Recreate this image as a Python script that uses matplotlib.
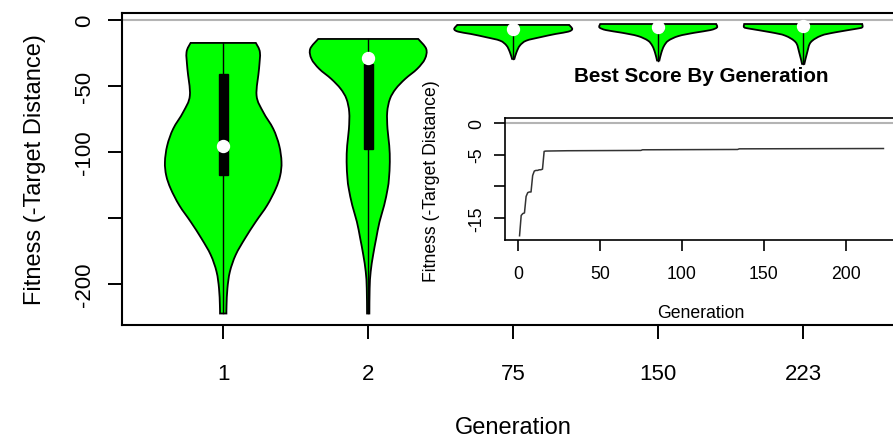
import numpy as np
import matplotlib.pyplot as plt
from matplotlib.path import Path
from matplotlib.patches import PathPatch

plt.rcParams['font.family'] = ['Liberation Sans', 'DejaVu Sans']

# generations shown in the violin plot
gen_labels = ['1', '2', '75', '150', '223']

# violin outlines: fitness value and half width (x units)
v1_y = [-17.7, -24.7, -37.3, -57.5, -70, -82.6, -95.2, -107.7, -118, -128,
        -140.5, -153, -165.6, -178, -190.7, -203.3, -215.8, -222.3]
v1_w = [0.225, 0.253, 0.247, 0.230, 0.276, 0.345, 0.386, 0.402, 0.393, 0.362,
        0.303, 0.224, 0.150, 0.086, 0.046, 0.029, 0.023, 0.022]
v2_y = [-14.7, -22.2, -29.8, -37.3, -44.9, -52.4, -60, -70, -82.6, -95.2,
        -107.7, -120.3, -128, -140.5, -153, -165.6, -178, -190.7, -203.3, -222.3]
v2_w = [0.345, 0.400, 0.391, 0.338, 0.255, 0.190, 0.150, 0.131, 0.133, 0.145,
        0.149, 0.143, 0.134, 0.110, 0.078, 0.055, 0.034, 0.017, 0.010, 0.008]
v3_y = [-4.1, -7.2, -9.2, -10.9, -13.4, -16, -19.7, -24.7, -29.8]
v3_w = [0.386, 0.407, 0.379, 0.293, 0.186, 0.090, 0.046, 0.023, 0.008]
v4_y = [-3.4, -6.0, -8.0, -10.0, -12.5, -16.0, -20.0, -25.0, -31.0]
v4_w = [0.400, 0.405, 0.360, 0.250, 0.140, 0.070, 0.040, 0.022, 0.008]
v5_y = [-3.4, -5.9, -7.0, -9.7, -12.2, -17.2, -24.7, -33.6]
v5_w = [0.407, 0.407, 0.366, 0.221, 0.124, 0.052, 0.028, 0.008]

medians = [-95.9, -29.3, -7.2, -5.9, -4.7]
q1 = [-117.5, -97.7, -9.5, -8.4, -7.0]
q3 = [-41.1, -33.6, -5.0, -4.0, -3.6]

# best score per generation (inset)
best_gen = [1, 2, 3, 4, 5, 6, 7, 8, 9, 10, 11, 12, 13, 14, 15, 16, 17,
            30, 75, 76, 134, 135, 223]
best_val = [-17.8, -14.6, -14.3, -14.2, -11.6, -11.0, -10.9, -10.9, -8.3, -7.6,
            -7.5, -7.5, -7.4, -7.4, -7.3, -4.5, -4.45, -4.4, -4.35, -4.25,
            -4.2, -4.1, -4.05]

violins = [(v1_y, v1_w), (v2_y, v2_w), (v3_y, v3_w), (v4_y, v4_w), (v5_y, v5_w)]


def smooth_side(pts):
    # catmull-rom through the outline points, as bezier segments
    verts, codes = [], []
    n = len(pts)
    for i in range(n - 1):
        p0 = pts[max(i - 1, 0)]
        p1 = pts[i]
        p2 = pts[i + 1]
        p3 = pts[min(i + 2, n - 1)]
        c1 = p1 + (p2 - p0) / 6
        c2 = p2 - (p3 - p1) / 6
        verts += [c1, c2, p2]
        codes += [Path.CURVE4] * 3
    return verts, codes


fig = plt.figure(figsize=(8.93, 4.39), dpi=100)
ax = fig.add_axes([0.1363, 0.2574, 0.8768, 0.7100])

for i, (vy, vw) in enumerate(violins):
    pos = i + 1
    vy = np.array(vy)
    vw = np.array(vw)
    left = np.column_stack([pos - vw, vy])
    right = np.column_stack([pos + vw, vy])[::-1]
    lv, lc = smooth_side(left)
    rv, rc = smooth_side(right)
    verts = [left[0]] + lv + [right[0]] + rv + [left[0]]
    codes = [Path.MOVETO] + lc + [Path.LINETO] + rc + [Path.CLOSEPOLY]
    ax.add_patch(PathPatch(Path(verts, codes), facecolor='#00ff00',
                           edgecolor='black', lw=1.3, zorder=2))
    ax.plot([pos, pos], [vy.min(), vy.max()], color='black', lw=1.0, zorder=3)
    ax.fill([pos - 0.031, pos + 0.031, pos + 0.031, pos - 0.031],
            [q1[i], q1[i], q3[i], q3[i]], color='black', zorder=4)
    ax.plot(pos, medians[i], 'o', color='white', ms=8.6, mec='white', zorder=5)

ax.axhline(0, color='#b4b4b4', lw=1.5, zorder=1)
ax.set_xlim(0.3, 5.7)
ax.set_ylim(-231.0, 4.69)
ax.set_xticks(range(1, 6))
ax.set_xticklabels(gen_labels)
ax.set_yticks([0, -50, -100, -150, -200])
ax.set_yticklabels(['0', '-50', '-100', '', '-200'], rotation=90, va='center')
ax.tick_params(axis='both', direction='out', length=10, width=1.4, labelsize=16)
ax.tick_params(axis='x', pad=17)
ax.tick_params(axis='y', pad=9)
for s in ax.spines.values():
    s.set_linewidth(1.5)

fig.text(35 / 893, 1 - 170 / 439, 'Fitness (-Target Distance)', rotation=90,
         ha='center', va='center', fontsize=17)
fig.text(513 / 893, 1 - 428 / 439, 'Generation', ha='center', va='center',
         fontsize=17)

# inset
ins = fig.add_axes([0.5655, 0.4510, 0.4401, 0.2772])
ins.patch.set_alpha(0)
ins.plot(best_gen, best_val, color='#333333', lw=1.1)
ins.axhline(0, color='#b4b4b4', lw=1.5)
ins.set_xlim(-7.88, 231.88)
ins.set_ylim(-18.47, 0.71)
ins.set_xticks([0, 50, 100, 150, 200])
ins.set_yticks([0, -5, -10, -15])
ins.set_yticklabels(['0', '-5', '', '-15'], rotation=90, va='center')
ins.tick_params(axis='both', direction='out', length=8, width=1.2, labelsize=12.7)
ins.tick_params(axis='x', pad=10)
ins.tick_params(axis='y', pad=6)
for s in ins.spines.values():
    s.set_linewidth(1.2)

fig.text(432 / 893, 1 - 181 / 439, 'Fitness (-Target Distance)', rotation=90,
         ha='center', va='center', fontsize=12.7)
fig.text(701 / 893, 1 - 314 / 439, 'Generation', ha='center', va='center',
         fontsize=12.7)
fig.text(701 / 893, 1 - 77 / 439, 'Best Score By Generation', ha='center',
         va='center', fontsize=14.9, fontweight='bold')

fig.savefig('out.png', dpi=100)
